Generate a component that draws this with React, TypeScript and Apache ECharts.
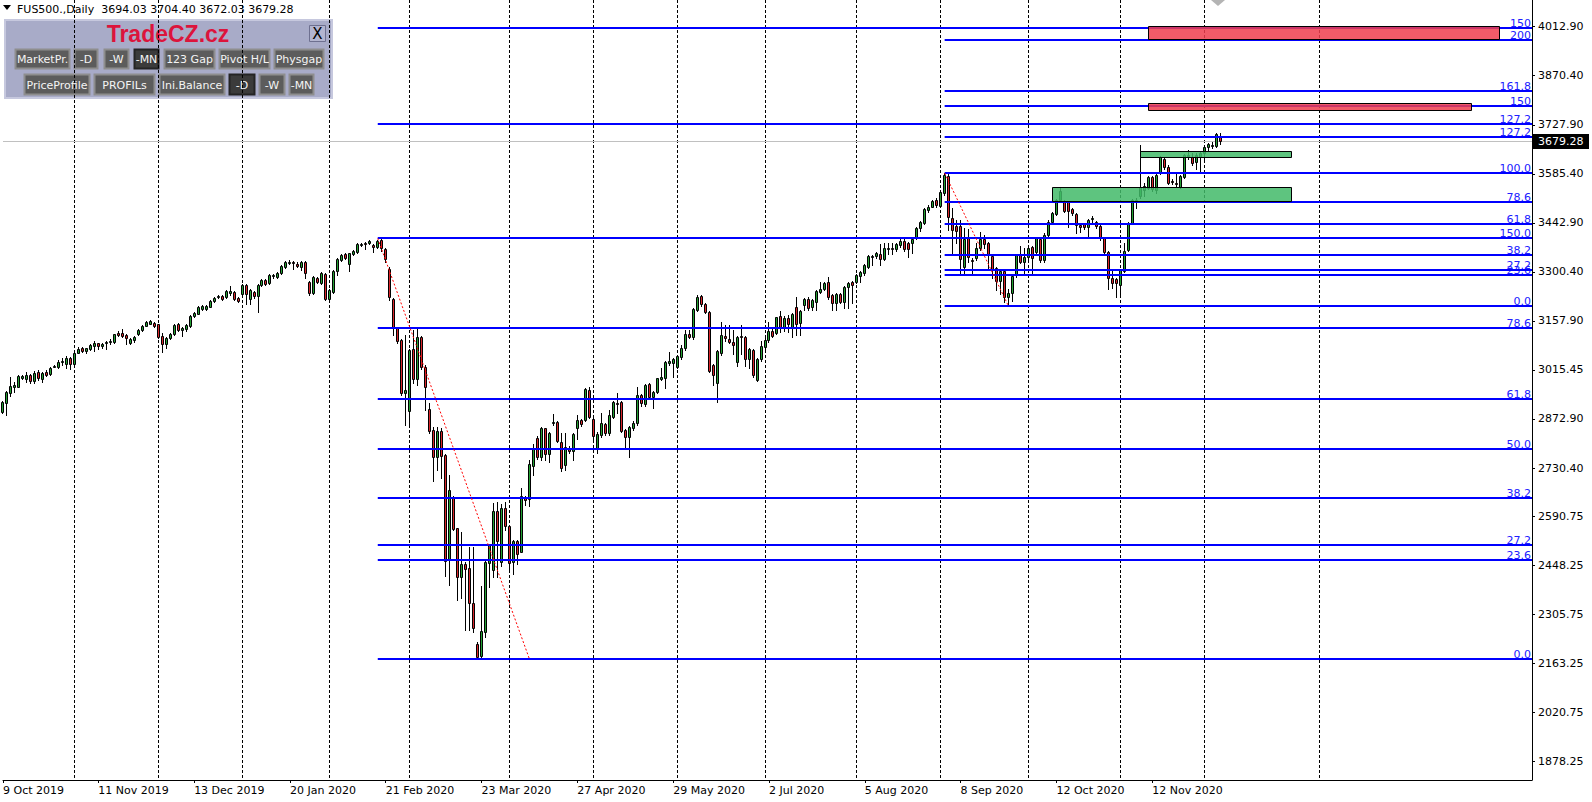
import React, { useEffect, useRef } from "react";
import * as echarts from "echarts";

// ---------- DATA ----------
// Daily bars, [open, high, low, close], oldest first (index = bar number)
const candles: number[][] = [
  // 0-9
  [2892, 2925, 2890, 2923], [2920, 2954, 2884, 2952], [2949, 2996, 2941, 2970], [2965, 2981, 2952, 2971], [2967, 3000, 2966, 2999],
  [2993, 3002, 2990, 2998], [2988, 3010, 2981, 3002], [3002, 3004, 2977, 2983], [2984, 3011, 2978, 3007], [3010, 3014, 2985, 2991],
  // 10-19
  [2989, 3010, 2981, 3006], [3010, 3014, 2997, 3001], [3004, 3025, 3000, 3022], [3024, 3029, 3023, 3027], [3025, 3045, 3020, 3039],
  [3038, 3049, 3030, 3040], [3034, 3055, 3020, 3050], [3050, 3052, 3018, 3034], [3034, 3067, 3030, 3065], [3065, 3083, 3064, 3075],
  // 20-29
  [3079, 3081, 3068, 3070], [3070, 3080, 3064, 3078], [3076, 3092, 3074, 3088], [3086, 3099, 3070, 3093], [3093, 3095, 3075, 3086],
  [3086, 3094, 3078, 3091], [3093, 3100, 3076, 3098], [3096, 3104, 3090, 3100], [3096, 3121, 3094, 3119], [3124, 3128, 3113, 3117],
  // 30-39
  [3123, 3134, 3112, 3115], [3117, 3121, 3090, 3109], [3093, 3108, 3090, 3105], [3102, 3115, 3098, 3111], [3119, 3134, 3117, 3131],
  [3131, 3146, 3129, 3144], [3144, 3158, 3142, 3155], [3150, 3160, 3148, 3157], [3152, 3156, 3140, 3144], [3148, 3150, 3108, 3112],
  // 40-49
  [3114, 3122, 3068, 3092], [3092, 3112, 3080, 3109], [3109, 3124, 3105, 3121], [3119, 3148, 3116, 3146], [3149, 3152, 3129, 3132],
  [3131, 3141, 3115, 3136], [3134, 3148, 3130, 3146], [3144, 3175, 3140, 3172], [3172, 3185, 3168, 3181], [3179, 3201, 3177, 3199],
  // 50-59
  [3192, 3204, 3189, 3200], [3192, 3203, 3190, 3201], [3199, 3218, 3197, 3215], [3215, 3227, 3213, 3225], [3226, 3234, 3224, 3231],
  [3230, 3232, 3220, 3223], [3228, 3247, 3225, 3245], [3240, 3258, 3233, 3245], [3243, 3245, 3220, 3223], [3225, 3228, 3212, 3217],
  // 60-69
  [3236, 3264, 3233, 3262], [3262, 3264, 3206, 3235], [3221, 3250, 3208, 3247], [3243, 3245, 3225, 3230], [3231, 3264, 3183, 3262],
  [3261, 3280, 3258, 3277], [3277, 3280, 3262, 3265], [3267, 3293, 3264, 3291], [3287, 3294, 3283, 3291], [3286, 3300, 3284, 3298],
  // 70-79
  [3296, 3319, 3294, 3317], [3316, 3331, 3312, 3329], [3327, 3334, 3322, 3330], [3329, 3332, 3308, 3325], [3324, 3328, 3314, 3317],
  [3316, 3332, 3306, 3329], [3329, 3332, 3282, 3296], [3271, 3275, 3234, 3240], [3240, 3287, 3236, 3285], [3283, 3286, 3268, 3272],
  // 80-89
  [3269, 3299, 3266, 3296], [3294, 3297, 3218, 3223], [3223, 3252, 3215, 3248], [3243, 3305, 3240, 3303], [3302, 3340, 3291, 3338],
  [3335, 3352, 3333, 3349], [3352, 3355, 3338, 3342], [3322, 3356, 3304, 3354], [3351, 3365, 3349, 3362], [3358, 3384, 3354, 3381],
  // 90-99
  [3380, 3385, 3376, 3381], [3385, 3388, 3366, 3381], [3383, 3393, 3381, 3390], [3378, 3380, 3359, 3372], [3373, 3394, 3369, 3391],
  [3394, 3397.5, 3362, 3369], [3368, 3370, 3330, 3337], [3308, 3315, 3220, 3226], [3223, 3225, 3117, 3139], [3139, 3141, 3093, 3100],
  // 100-109
  [3102, 3104, 2944, 2949], [2949, 3117, 2855, 2957], [2897, 3077, 2851, 3073], [3076, 3132, 2976, 2990], [2988, 3136, 2972, 3112],
  [3112, 3114, 3018, 3023], [3025, 3030, 2900, 2967], [2901, 2918, 2831, 2839], [2841, 2851, 2694, 2763], [2763, 2851, 2725, 2839],
  // 110-119
  [2839, 2846, 2700, 2765], [2768, 2770, 2417, 2461], [2463, 2710, 2390, 2667], [2647, 2650, 2550, 2554], [2555, 2557, 2347, 2415],
  [2415, 2543, 2352, 2452], [2452, 2458, 2260, 2438], [2439, 2502, 2260, 2337], [2337, 2500, 2255, 2265], [2219, 2226, 2175, 2180],
  // 120-129
  [2183, 2388, 2178, 2258], [2255, 2461, 2240, 2458], [2455, 2510, 2386, 2507], [2434, 2628, 2413, 2605], [2605, 2633, 2413, 2518],
  [2458, 2625, 2446, 2615], [2615, 2633, 2550, 2562], [2563, 2565, 2429, 2455], [2458, 2520, 2421, 2517], [2517, 2520, 2450, 2480],
  // 130-139
  [2487, 2672, 2485, 2649], [2645, 2650, 2623, 2638], [2640, 2754, 2620, 2741], [2736, 2800, 2710, 2788], [2819, 2822, 2758, 2761],
  [2763, 2850, 2755, 2846], [2846, 2848, 2754, 2771], [2771, 2835, 2749, 2831], [2864, 2886, 2855, 2865], [2863, 2866, 2805, 2810],
  // 140-149
  [2807, 2833, 2723, 2729], [2739, 2831, 2725, 2791], [2787, 2794, 2775, 2781], [2780, 2832, 2754, 2829], [2846, 2883, 2814, 2870],
  [2870, 2873, 2852, 2858], [2870, 2962, 2866, 2959], [2957, 2965, 2875, 2880], [2873, 2876, 2807, 2824], [2788, 2835, 2773, 2829],
  // 150-159
  [2826, 2889, 2820, 2860], [2858, 2862, 2826, 2831], [2833, 2899, 2825, 2884], [2880, 2925, 2875, 2922], [2920, 2947, 2889, 2918],
  [2922, 2925, 2835, 2839], [2841, 2843, 2788, 2820], [2821, 2853, 2763, 2850], [2846, 2866, 2840, 2862], [2860, 2965, 2855, 2944],
  // 160-169
  [2944, 2946, 2912, 2918], [2915, 2975, 2910, 2972], [2974, 2977, 2930, 2936], [2938, 2955, 2904, 2952], [2950, 2993, 2947, 2991],
  [2990, 3020, 2985, 2996], [2993, 3042, 2964, 3039], [3036, 3068, 3030, 3040], [3036, 3050, 2994, 3046], [3025, 3059, 3020, 3056],
  // 170-179
  [3052, 3088, 3048, 3078], [3078, 3131, 3073, 3120], [3120, 3131, 3107, 3112], [3110, 3195, 3106, 3192], [3191, 3233, 3188, 3228],
  [3230, 3233, 3200, 3207], [3207, 3210, 3182, 3185], [3183, 3186, 3010, 3013], [3030, 3033, 2971, 3001], [2978, 3072, 2923, 3069],
  // 180-189
  [3066, 3156, 3060, 3117], [3114, 3146, 3100, 3107], [3105, 3146, 3095, 3098], [3098, 3132, 3062, 3088], [3039, 3113, 3027, 3110],
  [3114, 3146, 3062, 3113], [3112, 3115, 3027, 3047], [3047, 3078, 3020, 3075], [3073, 3076, 2995, 3001], [2986, 3050, 2983, 3046],
  // 190-199
  [3046, 3100, 3040, 3085], [3082, 3107, 3075, 3102], [3103, 3156, 3098, 3130], [3130, 3135, 3110, 3114], [3124, 3170, 3120, 3168],
  [3172, 3187, 3125, 3136], [3136, 3172, 3130, 3165], [3166, 3175, 3125, 3148], [3141, 3180, 3112, 3178], [3199, 3228, 3117, 3149],
  // 200-209
  [3151, 3190, 3117, 3188], [3204, 3225, 3191, 3221], [3223, 3226, 3189, 3196], [3199, 3222, 3189, 3219], [3214, 3248, 3190, 3245],
  [3243, 3272, 3240, 3250], [3252, 3272, 3249, 3269], [3270, 3285, 3222, 3228], [3233, 3236, 3190, 3209], [3211, 3238, 3190, 3235],
  // 210-219
  [3235, 3238, 3210, 3214], [3213, 3260, 3194, 3257], [3257, 3270, 3194, 3267], [3271, 3274, 3211, 3263], [3272, 3294, 3268, 3291],
  [3289, 3303, 3272, 3300], [3296, 3323, 3291, 3320], [3315, 3349, 3312, 3346], [3345, 3349, 3320, 3346], [3346, 3358, 3340, 3354],
  // 220-229
  [3351, 3380, 3320, 3337], [3339, 3383, 3335, 3369], [3368, 3383, 3352, 3369], [3369, 3383, 3351, 3368], [3366, 3384, 3360, 3381],
  [3378, 3396, 3372, 3391], [3391, 3395, 3362, 3366], [3384, 3386, 3344, 3366], [3383, 3400, 3356, 3396], [3398, 3430, 3395, 3427],
  // 230-239
  [3427, 3447, 3420, 3444], [3443, 3485, 3440, 3482], [3480, 3495, 3475, 3490], [3490, 3510, 3488, 3507], [3510, 3514, 3490, 3494],
  [3493, 3534, 3490, 3532], [3529, 3587.5, 3525, 3582], [3580, 3585, 3422, 3461], [3456, 3485, 3349, 3422], [3433, 3451, 3383, 3420],
  // 240-249
  [3434, 3451, 3296, 3337], [3316, 3427, 3294, 3396], [3398, 3424, 3330, 3343], [3336, 3342, 3298, 3332], [3340, 3383, 3335, 3371],
  [3371, 3417, 3365, 3396], [3396, 3407, 3369, 3381], [3383, 3386, 3311, 3348], [3347, 3350, 3282, 3306], [3311, 3314, 3248, 3275],
  // 250-259
  [3274, 3306, 3237, 3303], [3304, 3307, 3214, 3228], [3226, 3250, 3200.5, 3240], [3240, 3293, 3215, 3289], [3290, 3352, 3285, 3349],
  [3349, 3375, 3325, 3330], [3330, 3369, 3291, 3343], [3343, 3372, 3335, 3369], [3372, 3375, 3296, 3342], [3359, 3400, 3350, 3398],
  // 260-269
  [3396, 3400, 3330, 3335], [3335, 3412, 3330, 3409], [3409, 3450, 3405, 3446], [3446, 3474, 3440, 3471], [3468, 3512, 3465, 3509],
  [3509, 3546, 3504, 3535], [3504, 3508, 3474, 3477], [3504, 3507, 3432, 3478], [3482, 3486, 3465, 3472], [3470, 3472, 3412, 3437],
  // 270-279
  [3438, 3441, 3417, 3430], [3439, 3442, 3425, 3432], [3432, 3454, 3403, 3451], [3457, 3463, 3446, 3458], [3444, 3448, 3427, 3434],
  [3434, 3437, 3393, 3398], [3398, 3400, 3355, 3359], [3359, 3362, 3252, 3282], [3284, 3306, 3253, 3267], [3280, 3284, 3228, 3269],
  // 280-289
  [3262, 3310, 3233, 3306], [3304, 3383, 3301, 3361], [3364, 3446, 3360, 3442], [3443, 3512, 3440, 3509], [3508, 3515, 3485, 3510],
  [3521, 3669, 3515, 3548], [3538, 3560, 3520, 3550], [3543, 3580, 3540, 3575], [3575, 3580, 3535, 3540], [3538, 3587, 3530, 3582],
  // 290-299
  [3587, 3636, 3585, 3633], [3628, 3632, 3600, 3606], [3606, 3610, 3555, 3560], [3564, 3570, 3555, 3561], [3560, 3587, 3550, 3555],
  [3548, 3582, 3544, 3579], [3577, 3643, 3574, 3640], [3638, 3655, 3627, 3640], [3633, 3645, 3612, 3618], [3620, 3645, 3600, 3640],
  // 300-305
  [3635, 3648, 3592, 3645], [3645, 3668, 3620, 3662], [3662, 3675, 3655, 3672], [3668, 3678, 3660, 3670], [3666, 3703, 3662, 3700],
  [3694.03, 3704.4, 3672.03, 3679.28],
];

const symbolTitle = "FUS500.,Daily";

// time-axis labels, one every 24 bars starting at bar 0
const dateLabels = [
  "9 Oct 2019", "11 Nov 2019", "13 Dec 2019", "20 Jan 2020", "21 Feb 2020", "23 Mar 2020", "27 Apr 2020",
  "29 May 2020", "2 Jul 2020", "5 Aug 2020", "8 Sep 2020", "12 Oct 2020", "12 Nov 2020",
];
const dateLabelStep = 24;

// first bar of each month (period separators)
const monthStartBars = [18, 39, 60, 82, 102, 127, 148, 169, 191, 214, 235, 257, 280, 301, 330];

// price-axis labels
const priceTicks = [
  1878.25, 2020.75, 2163.25, 2305.75, 2448.25, 2590.75, 2730.4, 2872.9,
  3015.45, 3157.9, 3300.4, 3442.9, 3585.4, 3727.9, 3870.4, 4012.9,
];

// Fibonacci retracements: anchor 1 [bar, price], anchor 2 [bar, price]
const leftFibAnchor1 = [94, 3397.5];
const leftFibAnchor2 = [132, 2175];
const leftFibLevels = [0, 23.6, 27.2, 38.2, 50, 61.8, 78.6, 100, 127.2, 150];
const leftFibLabels = ["0.0", "23.6", "27.2", "38.2", "50.0", "61.8", "78.6", "150.0", "127.2", "150"];

const rightFibAnchor1 = [236, 3587.5];
const rightFibAnchor2 = [252, 3200.5];
const rightFibLevels = [0, 23.6, 27.2, 38.2, 61.8, 78.6, 100, 127.2, 150, 161.8, 200];
const rightFibLabels = ["0.0", "23.6", "27.2", "38.2", "61.8", "78.6", "100.0", "127.2", "150", "161.8", "200"];

// zones: [startBar, topPrice, endBar, bottomPrice]
const supplyZones = [
  [287, 4015, 375, 3976],
  [287, 3790, 368, 3771],
];
const demandZones = [
  [285, 3651.5, 323, 3633.5],
  [263, 3546, 323, 3507.5],
];

// ---------- STYLE ----------
const FONT = '11px "DejaVu Sans"';
const BULL = "#23a033";
const BEAR = "#d8262b";
const FIB_BLUE = "#0000ff";
const X_MIN = 0.125;
const X_MAX = 383.125;
const Y_MIN = 1823.7;
const Y_MAX = 4090.5;

const lastBar = candles[candles.length - 1];

function fibLines(a1: number[], a2: number[], levels: number[], labels: string[]) {
  return levels.map((p, k) => ({
    start: Math.min(a1[0], a2[0]),
    value: a2[1] + (p / 100) * (a1[1] - a2[1]),
    label: labels[k],
  }));
}
const levelLines = [
  ...fibLines(leftFibAnchor1, leftFibAnchor2, leftFibLevels, leftFibLabels),
  ...fibLines(rightFibAnchor1, rightFibAnchor2, rightFibLevels, rightFibLabels),
];

const panelButtons = [
  { x: 15, y: 49, w: 54, h: 19, t: "MarketPr.", on: false },
  { x: 74, y: 49, w: 23, h: 19, t: "-D", on: false },
  { x: 104, y: 49, w: 24, h: 19, t: "-W", on: false },
  { x: 134, y: 49, w: 24, h: 19, t: "-MN", on: true },
  { x: 164, y: 49, w: 50, h: 19, t: "123 Gap", on: false },
  { x: 219, y: 49, w: 50, h: 19, t: "Pivot H/L", on: false },
  { x: 274, y: 49, w: 49, h: 19, t: "Physgap", on: false },
  { x: 24, y: 74, w: 65, h: 20, t: "PriceProfile", on: false },
  { x: 94, y: 74, w: 60, h: 20, t: "PROFILs", on: false },
  { x: 159, y: 74, w: 65, h: 20, t: "Ini.Balance", on: false },
  { x: 229, y: 74, w: 25, h: 20, t: "-D", on: true },
  { x: 259, y: 74, w: 25, h: 20, t: "-W", on: false },
  { x: 289, y: 74, w: 24, h: 20, t: "-MN", on: false },
];

function buildOption() {
  const candleData = candles.map((r, i) => [i, r[0], r[1], r[2], r[3]]);
  const dateTickValues = dateLabels.map((_, k) => Math.max(k * dateLabelStep, X_MIN));

  const graphic: any[] = [
    {
      type: "polygon",
      shape: { points: [[3, 5], [11, 5], [7, 10]] },
      style: { fill: "#000" },
    },
    {
      type: "text",
      x: 17,
      y: 9,
      style: {
        text: `${symbolTitle}  ${lastBar[0].toFixed(2)} ${lastBar[1].toFixed(2)} ${lastBar[2].toFixed(2)} ${lastBar[3].toFixed(2)}`,
        font: FONT,
        fill: "#000",
        align: "left",
        verticalAlign: "middle",
      },
    },
    {
      type: "polygon",
      shape: { points: [[1211, 0], [1225, 0], [1218, 6]] },
      style: { fill: "#b4b4b4" },
    },
    {
      type: "rect",
      shape: { x: 5, y: 20, width: 327, height: 78 },
      style: { fill: "#a8abc8", stroke: "#c6c8de", lineWidth: 2 },
    },
    {
      type: "text",
      x: 168,
      y: 34,
      style: {
        text: "TradeCZ.cz",
        font: 'bold 23px "Liberation Sans"',
        fill: "#dc143c",
        align: "center",
        verticalAlign: "middle",
      },
    },
    {
      type: "rect",
      shape: { x: 309.5, y: 25.5, width: 16, height: 16 },
      style: { fill: "#b3b5d0", stroke: "#6e7090", lineWidth: 1 },
    },
    {
      type: "text",
      x: 317.5,
      y: 34,
      style: { text: "X", font: '15px "DejaVu Sans"', fill: "#000", align: "center", verticalAlign: "middle" },
    },
  ];
  panelButtons.forEach((b) => {
    graphic.push({
      type: "rect",
      shape: { x: b.x + 0.5, y: b.y + 0.5, width: b.w, height: b.h },
      style: {
        fill: b.on ? "#3b3b3b" : "#5c5c5c",
        stroke: b.on ? "#242424" : "#8e8e8e",
        lineWidth: 2,
      },
    });
    graphic.push({
      type: "text",
      x: b.x + b.w / 2 + 0.5,
      y: b.y + b.h / 2 + 1,
      style: { text: b.t, font: FONT, fill: "#f4f4f4", align: "center", verticalAlign: "middle" },
    });
  });

  return {
    animation: false,
    backgroundColor: "#ffffff",
    grid: { left: 0, top: 0, width: 1532, height: 780, containLabel: false },
    xAxis: {
      type: "value",
      min: X_MIN,
      max: X_MAX,
      axisLine: { show: true, onZero: false, lineStyle: { color: "#000", width: 1 } },
      axisTick: { show: true, customValues: dateTickValues, length: 3, lineStyle: { color: "#000" } },
      axisLabel: {
        show: true,
        customValues: dateTickValues,
        formatter: (v: number) => dateLabels[Math.round(v / dateLabelStep)] ?? "",
        align: "left",
        margin: 5,
        color: "#000",
        fontFamily: "DejaVu Sans",
        fontSize: 11,
        hideOverlap: false,
      },
      splitLine: { show: false },
    },
    yAxis: {
      type: "value",
      position: "right",
      min: Y_MIN,
      max: Y_MAX,
      axisLine: { show: true, onZero: false, lineStyle: { color: "#000", width: 1 } },
      axisTick: { show: true, customValues: priceTicks, length: 3, lineStyle: { color: "#000" } },
      axisLabel: {
        show: true,
        customValues: priceTicks,
        formatter: (v: number) => v.toFixed(2),
        margin: 6,
        color: "#000",
        fontFamily: "DejaVu Sans",
        fontSize: 11,
        hideOverlap: false,
      },
      splitLine: { show: false },
    },
    series: [
      {
        name: "separators",
        type: "custom",
        z: 1,
        silent: true,
        data: monthStartBars.map((b) => [b, Y_MIN]),
        renderItem: (params: any, api: any) => {
          const px = api.coord([api.value(0), Y_MIN])[0];
          const cs = params.coordSys;
          if (px < cs.x || px > cs.x + cs.width) return null;
          const x = Math.floor(px) + 0.5;
          return {
            type: "line",
            shape: { x1: x, y1: cs.y, x2: x, y2: cs.y + cs.height },
            style: { stroke: "#000", lineWidth: 1, lineDash: [3, 2] },
          };
        },
      },
      {
        name: "bid",
        type: "custom",
        z: 2,
        silent: true,
        data: [[candles.length - 1, lastBar[3]]],
        renderItem: (params: any, api: any) => {
          const cs = params.coordSys;
          const y = Math.round(api.coord([api.value(0), api.value(1)])[1]) + 0.5;
          const right = cs.x + cs.width;
          return {
            type: "group",
            children: [
              { type: "line", shape: { x1: cs.x, y1: y, x2: right, y2: y }, style: { stroke: "#c0c0c0", lineWidth: 1 } },
              { type: "rect", shape: { x: right + 1, y: y - 7.5, width: 56, height: 15 }, style: { fill: "#000" } },
              {
                type: "text",
                x: right + 6,
                y: y,
                style: { text: api.value(1).toFixed(2), font: FONT, fill: "#fff", align: "left", verticalAlign: "middle" },
              },
            ],
          };
        },
      },
      {
        name: "FUS500",
        type: "custom",
        z: 3,
        silent: true,
        data: candleData,
        renderItem: (params: any, api: any) => {
          const i = api.value(0);
          const o = api.value(1), h = api.value(2), l = api.value(3), c = api.value(4);
          const pO = api.coord([i, o]);
          const yC = api.coord([i, c])[1];
          const yH = api.coord([i, h])[1];
          const yL = api.coord([i, l])[1];
          const cx = Math.floor(pO[0] + 0.001) + 0.5;
          const top = Math.round(Math.min(pO[1], yC));
          const bot = Math.round(Math.max(pO[1], yC));
          return {
            type: "group",
            children: [
              {
                type: "line",
                shape: { x1: cx, y1: Math.round(yH), x2: cx, y2: Math.round(yL) + 1 },
                style: { stroke: "#000", lineWidth: 1 },
              },
              {
                type: "rect",
                shape: { x: cx - 1, y: top + 0.5, width: 2, height: Math.max(bot - top, 1) },
                style: { fill: c >= o ? BULL : BEAR, stroke: "#000", lineWidth: 1 },
              },
            ],
          };
        },
      },
      {
        name: "levels",
        type: "custom",
        z: 4,
        silent: true,
        data: levelLines.map((l) => [l.start, l.value]),
        renderItem: (params: any, api: any) => {
          const cs = params.coordSys;
          const p = api.coord([api.value(0), api.value(1)]);
          const y = Math.round(p[1]);
          const right = cs.x + cs.width;
          return {
            type: "group",
            children: [
              {
                type: "line",
                shape: { x1: p[0], y1: y, x2: right, y2: y },
                style: { stroke: FIB_BLUE, lineWidth: 2 },
              },
              {
                type: "text",
                x: right - 1,
                y: y + 1,
                style: {
                  text: levelLines[params.dataIndex].label,
                  font: FONT,
                  fill: "#2020ff",
                  align: "right",
                  verticalAlign: "bottom",
                },
              },
            ],
          };
        },
      },
      {
        name: "fibTrend",
        type: "custom",
        z: 5,
        silent: true,
        data: [
          [leftFibAnchor1[0], leftFibAnchor1[1], leftFibAnchor2[0], leftFibAnchor2[1]],
          [rightFibAnchor1[0], rightFibAnchor1[1], rightFibAnchor2[0], rightFibAnchor2[1]],
        ],
        renderItem: (params: any, api: any) => {
          const a = api.coord([api.value(0), api.value(1)]);
          const b = api.coord([api.value(2), api.value(3)]);
          return {
            type: "line",
            shape: { x1: a[0], y1: a[1], x2: b[0], y2: b[1] },
            style: { stroke: "#ff0000", lineWidth: 1, lineDash: [2, 2] },
          };
        },
      },
      ...[
        { zones: supplyZones, fill: "rgba(238,62,78,0.85)" },
        { zones: demandZones, fill: "rgba(66,186,104,0.85)" },
      ].map((g, k) => ({
        name: k === 0 ? "supply" : "demand",
        type: "custom",
        z: 6,
        silent: true,
        data: g.zones,
        renderItem: (params: any, api: any) => {
          const a = api.coord([api.value(0), api.value(1)]);
          const b = api.coord([api.value(2), api.value(3)]);
          const x1 = Math.floor(a[0] + 0.001) + 0.5;
          const x2 = Math.floor(b[0] + 0.001) + 0.5;
          const y1 = Math.round(a[1]) + 0.5;
          const y2 = Math.round(b[1]) + 0.5;
          return {
            type: "rect",
            shape: { x: x1, y: y1, width: x2 - x1, height: y2 - y1 },
            style: { fill: g.fill, stroke: "#000", lineWidth: 1 },
          };
        },
      })),
    ],
    graphic,
  };
}

export default function App() {
  const ref = useRef<HTMLDivElement>(null);
  useEffect(() => {
    if (!ref.current) return;
    const chart = echarts.init(ref.current, null, { renderer: "svg" });
    chart.setOption(buildOption() as any);
    return () => {
      chart.dispose();
    };
  }, []);
  return (
    <div
      ref={ref}
      style={{ position: "fixed", left: 0, top: 0, width: 1592, height: 802, background: "#fff" }}
    />
  );
}
